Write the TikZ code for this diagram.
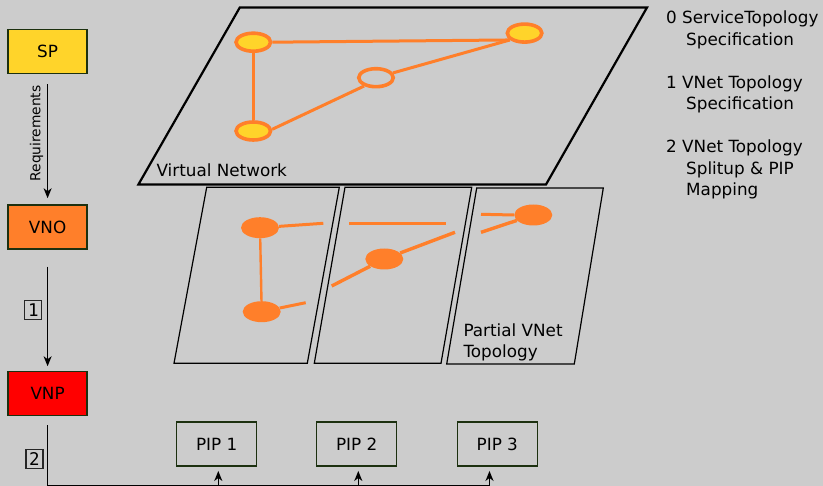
\documentclass[tikz,border=0pt]{standalone}
\usepackage{fontspec}
\setmainfont{DejaVu Sans}
\newfontfamily\digitfont{DejaVu Sans Mono}
\usetikzlibrary{arrows.meta,shapes.geometric}
\definecolor{bg}{HTML}{CCCCCC}
\definecolor{bord}{HTML}{1C300F}
\definecolor{spy}{HTML}{FFD42A}
\definecolor{vnofill}{HTML}{FF7F2A}
\definecolor{vnpfill}{HTML}{FF0000}
\definecolor{edgec}{HTML}{FF7F2A}
\begin{document}
\begin{tikzpicture}[x=1pt,y=-1pt,
  font=\fontsize{16.8}{21}\selectfont,
  role/.style={draw=bord,line width=1.5pt,minimum width=79pt,minimum height=44pt,inner sep=0pt},
  pip/.style={draw=bord,line width=1.5pt,minimum width=80pt,minimum height=44pt,inner sep=0pt},
  arr/.style={-{Stealth[length=10pt,width=8pt,inset=3pt]},line width=1.4pt},
  bus/.style={line width=1.4pt},
  vnode/.style={ellipse,draw=edgec,line width=3.6pt,minimum width=34.5pt,minimum height=18pt,inner sep=0pt},
  pnode/.style={ellipse,fill=edgec,minimum width=38pt,minimum height=21pt,inner sep=0pt},
  vedge/.style={draw=edgec,line width=3pt},
  plane/.style={draw=black,line width=2.2pt,line join=miter},
  part/.style={draw=black,line width=1.2pt},
  numbox/.style={draw=black!85,line width=1.1pt,minimum width=17pt,minimum height=19pt,inner sep=0pt,font=\digitfont\fontsize{17.5}{17.5}\selectfont},
  note/.style={anchor=base west,inner sep=0pt}
]
\useasboundingbox (0,0) rectangle (823,486);
\fill[bg] (0,0) rectangle (823,486);

% left column
\node[role,fill=spy] (SP) at (47.6,51.3) {SP};
\node[role,fill=vnofill] (VNO) at (47.6,227) {VNO};
\node[role,fill=vnpfill] (VNP) at (47.6,393.5) {VNP};
\draw[arr,shorten <=10pt,shorten >=6pt] (SP) -- (VNO);
\node[rotate=90,font=\fontsize{13.8}{16}\selectfont] (req) at (36.5,133.5) {Requirements};
\draw[arr,shorten <=17pt,shorten >=4.5pt] (VNO) -- (VNP);
\node[numbox] (n1) at (33.3,310.3) {1};
\node[numbox] (n2) at (34.5,458.7) {2};

% PIP boxes
\node[pip] (PIP1) at (216.7,444.2) {PIP 1};
\node[pip] (PIP2) at (356.7,444.2) {PIP 2};
\node[pip] (PIP3) at (497.3,444.2) {PIP 3};
\coordinate (b1) at (218.3,485.3);
\coordinate (b2) at (358.3,485.3);
\coordinate (b3) at (489.5,485.3);
\draw[bus] ([yshift=-9pt]VNP.south) |- (b3);
\draw[arr,shorten >=4pt] (b1) -- (b1 |- PIP1.south);
\draw[arr,shorten >=4pt] (b2) -- (b2 |- PIP2.south);
\draw[arr,shorten >=4pt] (b3) -- (b3 |- PIP3.south);

% virtual network plane
\draw[plane] (239.8,7.5) -- (647,7.5) -- (546,184.5) -- (138.4,184.5) -- cycle;
\node[note] (vnlabel) at (156.4,176.4) {Virtual Network};
\node[vnode,fill=spy] (A) at (253.3,42.2) {};
\node[vnode,fill=spy] (B) at (524.6,33.1) {};
\node[vnode] (C) at (376,77.7) {};
\node[vnode,fill=spy] (D) at (253.3,131) {};
\draw[vedge] (A.east) -- (B.205);
\draw[vedge] (C) -- (B.205);
\draw[vedge] (D.5) -- (C.215);
\draw[vedge] (A) -- (D);

% partial topologies
\draw[part] (206.7,187.3) -- (339.3,187.3) -- (307.3,363.3) -- (174,363.3) -- cycle;
\draw[part] (345,187.3) -- (471.7,187.3) -- (441,363.3) -- (314.3,363.3) -- cycle;
\draw[part] (476.7,188) -- (603.3,188) -- (574.3,364) -- (446.7,364) -- cycle;
\node[pnode] (E1) at (260,227.7) {};
\node[pnode] (E2) at (261.7,311.7) {};
\node[pnode] (E3) at (384.3,259) {};
\node[pnode] (E4) at (533.3,215) {};
\coordinate (e1r) at (323.3,223.3);
\coordinate (e2r) at (305.7,302.7);
\coordinate (h1) at (349.3,223.3);
\coordinate (h2) at (446,223.3);
\coordinate (q1) at (331.7,286);
\coordinate (q2) at (455,232.3);
\coordinate (r1) at (481,214.3);
\coordinate (r2) at (481,232.3);
\draw[vedge,line width=2.4pt] (E1) -- (E2);
\draw[vedge] (E1) -- (e1r);
\draw[vedge] (E2) -- (e2r);
\draw[vedge] (h1) -- (h2);
\draw[vedge,line width=3.4pt] (q1) -- (E3) -- (q2);
\draw[vedge] (r1) -- (E4.west);
\draw[vedge,line width=3.4pt] (r2) -- (E4);
\node[note] (pv1) at (463.3,336.7) {Partial VNet};
\node[note] (pv2) at (463.3,357.8) {Topology};

% legend
\node[note] (l0a) at (666,24) {0 ServiceTopology};
\node[note] (l0b) at (686,45.5) {Specification};
\node[note] (l1a) at (666,88.5) {1 VNet Topology};
\node[note] (l1b) at (686,110) {Specification};
\node[note] (l2a) at (666,153) {2 VNet Topology};
\node[note] (l2b) at (686,174.5) {Splitup \& PIP};
\node[note] (l2c) at (686,196) {Mapping};
\end{tikzpicture}
\end{document}
